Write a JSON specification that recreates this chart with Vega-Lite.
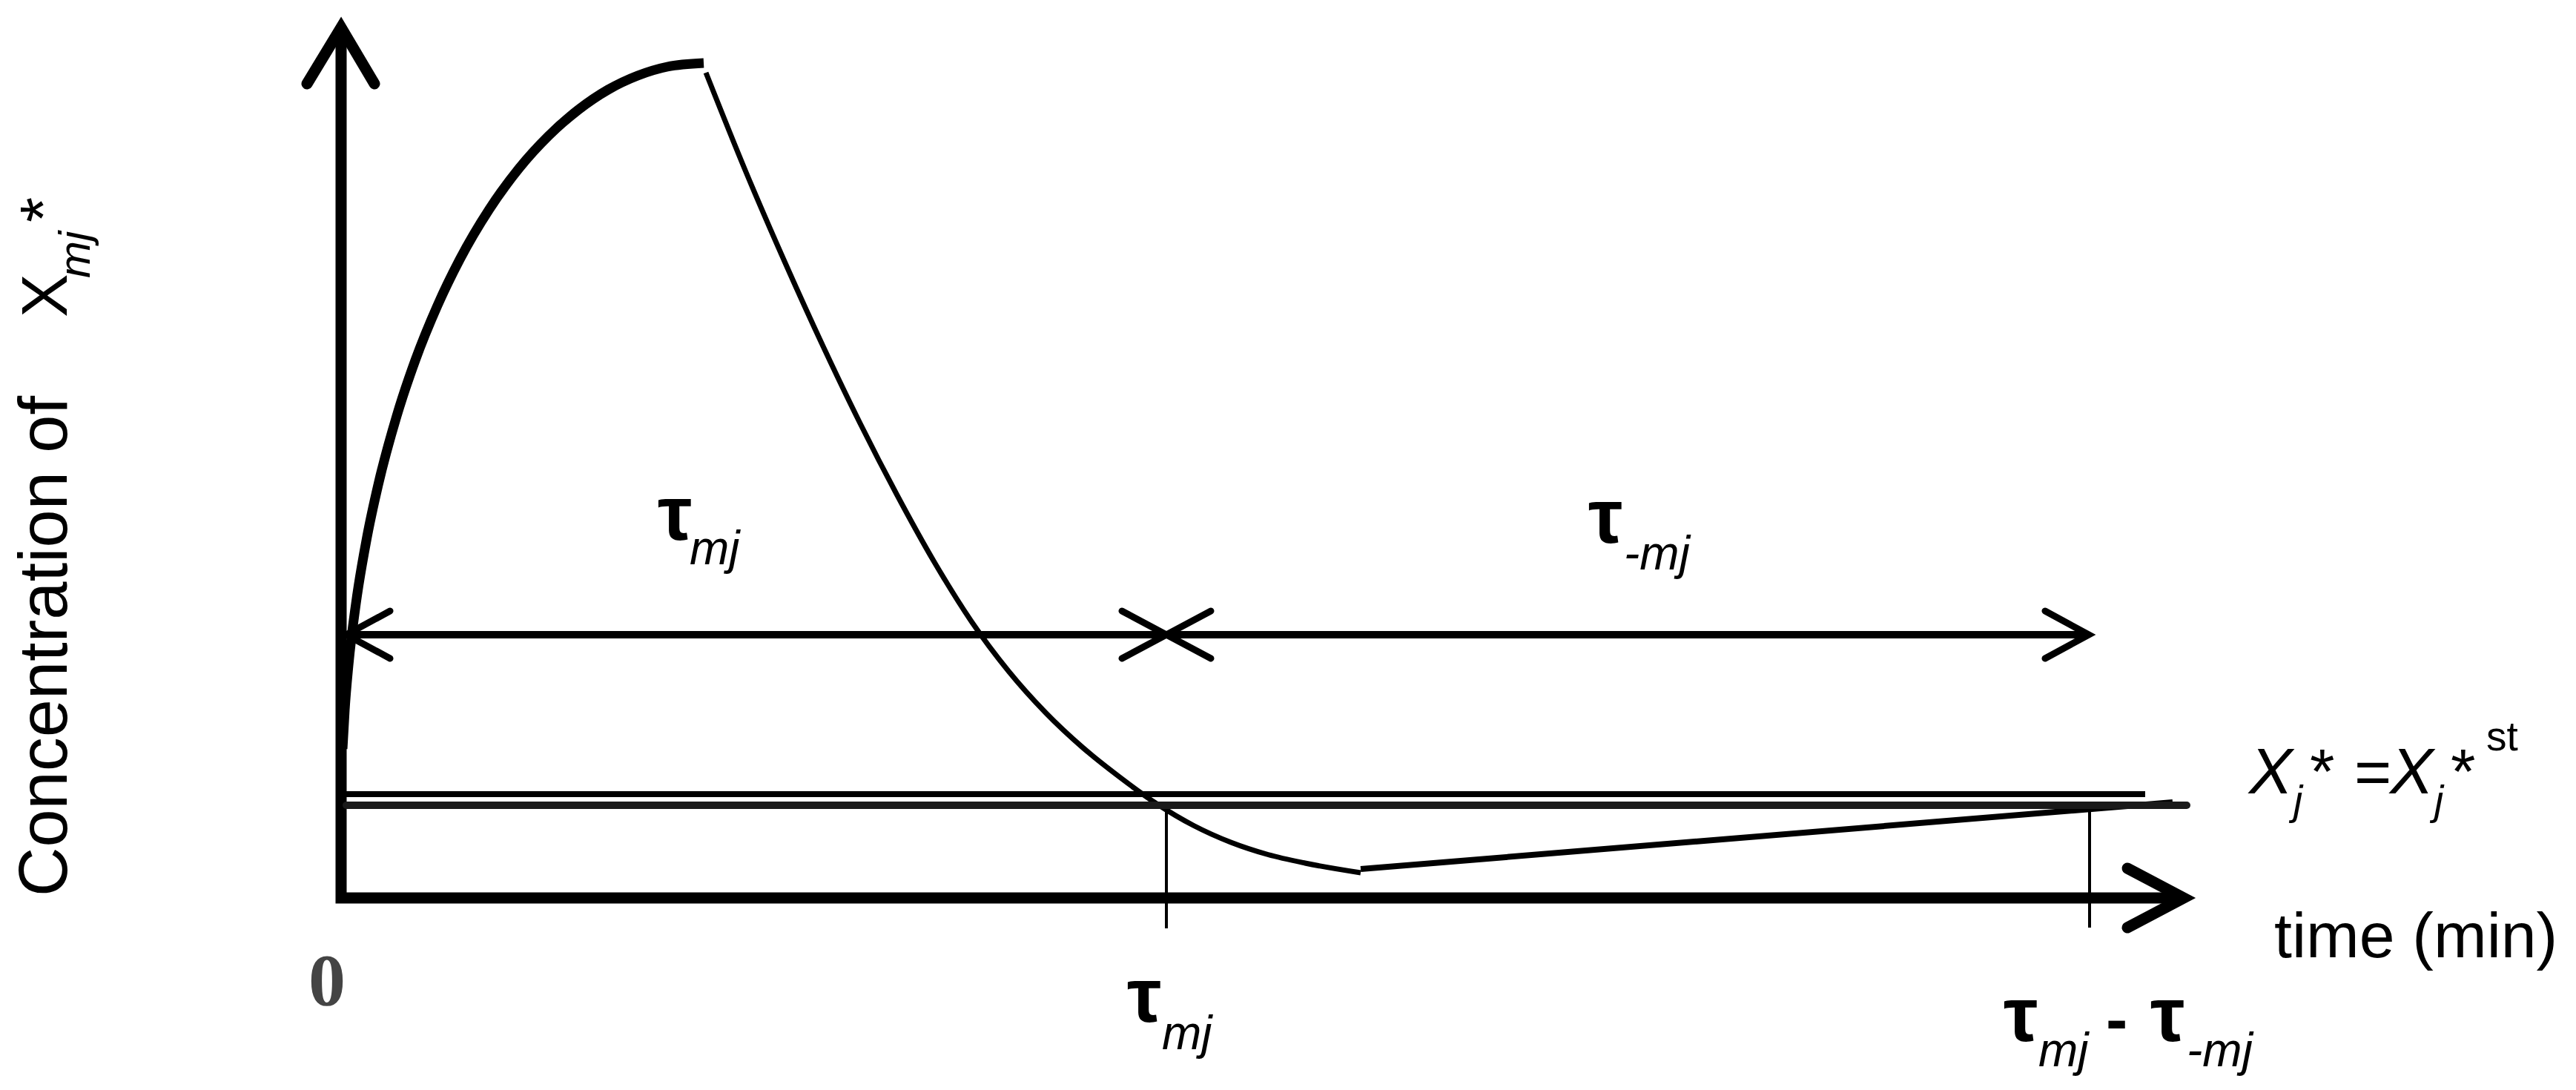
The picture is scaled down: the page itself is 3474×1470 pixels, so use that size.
{
  "$schema": "https://vega.github.io/schema/vega-lite/v6.json",
  "width": 3474,
  "height": 1470,
  "autosize": {"type": "fit", "contains": "padding"},
  "padding": 0,
  "background": "white",
  "config": {"view": {"stroke": null}},
  "datasets": {
    "paths": [
      {"part": "axes", "i": 1, "t": 0, "c": 11.6},
      {"part": "axes", "i": 2, "t": 0, "c": 0},
      {"part": "axes", "i": 3, "t": 24.75, "c": 0},
      {"part": "yarrow", "i": 1, "t": -0.46, "c": 10.98},
      {"part": "yarrow", "i": 2, "t": 0, "c": 11.74},
      {"part": "yarrow", "i": 3, "t": 0.45, "c": 10.98},
      {"part": "xarrow", "i": 1, "t": 24.09, "c": 0.4},
      {"part": "xarrow", "i": 2, "t": 24.85, "c": 0},
      {"part": "xarrow", "i": 3, "t": 24.09, "c": -0.4},
      {"part": "rise", "i": 1, "t": 0.02, "c": 2.01},
      {"part": "rise", "i": 2, "t": 0.05, "c": 2.54},
      {"part": "rise", "i": 3, "t": 0.1, "c": 3.14},
      {"part": "rise", "i": 4, "t": 0.2, "c": 3.97},
      {"part": "rise", "i": 5, "t": 0.35, "c": 4.87},
      {"part": "rise", "i": 6, "t": 0.5, "c": 5.57},
      {"part": "rise", "i": 7, "t": 0.75, "c": 6.5},
      {"part": "rise", "i": 8, "t": 1.0, "c": 7.25},
      {"part": "rise", "i": 9, "t": 1.3, "c": 7.99},
      {"part": "rise", "i": 10, "t": 1.6, "c": 8.61},
      {"part": "rise", "i": 11, "t": 2.0, "c": 9.29},
      {"part": "rise", "i": 12, "t": 2.4, "c": 9.84},
      {"part": "rise", "i": 13, "t": 2.8, "c": 10.28},
      {"part": "rise", "i": 14, "t": 3.2, "c": 10.63},
      {"part": "rise", "i": 15, "t": 3.6, "c": 10.9},
      {"part": "rise", "i": 16, "t": 4.0, "c": 11.09},
      {"part": "rise", "i": 17, "t": 4.4, "c": 11.21},
      {"part": "rise", "i": 18, "t": 4.89, "c": 11.26},
      {"part": "fall", "i": 1, "t": 4.92, "c": 11.13},
      {"part": "fall", "i": 2, "t": 5.46, "c": 9.79},
      {"part": "fall", "i": 3, "t": 6.0, "c": 8.54},
      {"part": "fall", "i": 4, "t": 6.5, "c": 7.44},
      {"part": "fall", "i": 5, "t": 7.0, "c": 6.4},
      {"part": "fall", "i": 6, "t": 7.5, "c": 5.43},
      {"part": "fall", "i": 7, "t": 8.0, "c": 4.53},
      {"part": "fall", "i": 8, "t": 8.5, "c": 3.73},
      {"part": "fall", "i": 9, "t": 9.0, "c": 3.06},
      {"part": "fall", "i": 10, "t": 9.5, "c": 2.5},
      {"part": "fall", "i": 11, "t": 10.0, "c": 2.03},
      {"part": "fall", "i": 12, "t": 10.5, "c": 1.63},
      {"part": "fall", "i": 13, "t": 11.0, "c": 1.27},
      {"part": "fall", "i": 14, "t": 11.5, "c": 0.975},
      {"part": "fall", "i": 15, "t": 12.0, "c": 0.75},
      {"part": "fall", "i": 16, "t": 12.5, "c": 0.585},
      {"part": "fall", "i": 17, "t": 13.0, "c": 0.47},
      {"part": "fall", "i": 18, "t": 13.75, "c": 0.34},
      {"part": "recover", "i": 1, "t": 13.75, "c": 0.39},
      {"part": "recover", "i": 2, "t": 24.7, "c": 1.29},
      {"part": "steady1", "i": 1, "t": 0.07, "c": 1.4},
      {"part": "steady1", "i": 2, "t": 24.33, "c": 1.4},
      {"part": "steady2", "i": 1, "t": 0.07, "c": 1.25},
      {"part": "steady2", "i": 2, "t": 24.89, "c": 1.25},
      {"part": "span", "i": 1, "t": 0.07, "c": 3.55},
      {"part": "span", "i": 2, "t": 23.57, "c": 3.55},
      {"part": "head1", "i": 1, "t": 0.66, "c": 3.87},
      {"part": "head1", "i": 2, "t": 0.07, "c": 3.55},
      {"part": "head1", "i": 3, "t": 0.66, "c": 3.23},
      {"part": "head2", "i": 1, "t": 10.53, "c": 3.87},
      {"part": "head2", "i": 2, "t": 11.13, "c": 3.55},
      {"part": "head2", "i": 3, "t": 10.53, "c": 3.23},
      {"part": "head3", "i": 1, "t": 11.73, "c": 3.87},
      {"part": "head3", "i": 2, "t": 11.13, "c": 3.55},
      {"part": "head3", "i": 3, "t": 11.73, "c": 3.23},
      {"part": "head4", "i": 1, "t": 22.98, "c": 3.87},
      {"part": "head4", "i": 2, "t": 23.57, "c": 3.55},
      {"part": "head4", "i": 3, "t": 22.98, "c": 3.23},
      {"part": "tick1", "i": 1, "t": 11.13, "c": 1.2},
      {"part": "tick1", "i": 2, "t": 11.13, "c": -0.41},
      {"part": "tick2", "i": 1, "t": 23.58, "c": 1.16},
      {"part": "tick2", "i": 2, "t": 23.58, "c": -0.4}
    ],
    "texts": [
      {"style": "rot92", "label": "Concentration of", "t": -3.7, "c": 0.02},
      {"style": "rot88", "label": "X", "t": -3.7, "c": 7.83},
      {"style": "rot88", "label": "*", "t": -3.72, "c": 9.11},
      {"style": "rotsub", "label": "mj", "t": -3.39, "c": 8.36},
      {"style": "tau", "label": "τ", "t": 4.27, "c": 4.83},
      {"style": "tau", "label": "τ", "t": 16.82, "c": 4.79},
      {"style": "tau", "label": "τ", "t": 10.6, "c": -1.67},
      {"style": "tau", "label": "τ", "t": 22.42, "c": -1.93},
      {"style": "tau", "label": "τ", "t": 24.4, "c": -1.93},
      {"style": "sub", "label": "mj", "t": 4.7, "c": 4.5},
      {"style": "sub", "label": "-mj", "t": 17.3, "c": 4.43},
      {"style": "sub", "label": "mj", "t": 11.07, "c": -2.04},
      {"style": "sub", "label": "mj", "t": 22.89, "c": -2.27},
      {"style": "sub", "label": "-mj", "t": 24.89, "c": -2.27},
      {"style": "minus", "label": "-", "t": 23.8, "c": -1.93},
      {"style": "reg", "label": "time (min)", "t": 26.07, "c": -0.8},
      {"style": "reg", "label": "*", "t": 26.55, "c": 1.41},
      {"style": "reg", "label": "=", "t": 27.15, "c": 1.41},
      {"style": "reg", "label": "*", "t": 28.45, "c": 1.41},
      {"style": "ital", "label": "X", "t": 25.73, "c": 1.41},
      {"style": "ital", "label": "X", "t": 27.63, "c": 1.41},
      {"style": "smallital", "label": "j", "t": 26.33, "c": 1.13},
      {"style": "smallital", "label": "j", "t": 28.23, "c": 1.13},
      {"style": "small", "label": "st", "t": 28.93, "c": 1.99},
      {"style": "zero", "label": "0", "t": -0.19, "c": -1.44}
    ]
  },
  "encoding": {
    "x": {"field": "t", "type": "quantitative", "scale": {"domain": [-4.6, 30.14], "nice": false, "zero": false}, "axis": null},
    "y": {"field": "c", "type": "quantitative", "scale": {"domain": [-2.59, 12.11], "nice": false, "zero": false}, "axis": null}
  },
  "layer": [
    {
      "data": {"name": "paths"},
      "transform": [{"filter": {"field": "part", "oneOf": ["axes"]}}],
      "mark": {"type": "line", "color": "black", "strokeWidth": 15, "strokeJoin": "miter", "strokeCap": "butt"},
      "encoding": {"order": {"field": "i", "type": "quantitative"}, "detail": {"field": "part"}}
    },
    {
      "data": {"name": "paths"},
      "transform": [{"filter": {"field": "part", "oneOf": ["yarrow", "xarrow"]}}],
      "mark": {"type": "line", "color": "black", "strokeWidth": 15, "strokeJoin": "miter", "strokeCap": "round"},
      "encoding": {"order": {"field": "i", "type": "quantitative"}, "detail": {"field": "part"}}
    },
    {
      "data": {"name": "paths"},
      "transform": [{"filter": {"field": "part", "oneOf": ["rise"]}}],
      "mark": {"type": "line", "color": "black", "strokeWidth": 13, "interpolate": "monotone", "strokeCap": "butt"},
      "encoding": {"order": {"field": "i", "type": "quantitative"}, "detail": {"field": "part"}}
    },
    {
      "data": {"name": "paths"},
      "transform": [{"filter": {"field": "part", "oneOf": ["fall"]}}],
      "mark": {"type": "line", "color": "black", "strokeWidth": 7, "interpolate": "monotone", "strokeCap": "butt"},
      "encoding": {"order": {"field": "i", "type": "quantitative"}, "detail": {"field": "part"}}
    },
    {
      "data": {"name": "paths"},
      "transform": [{"filter": {"field": "part", "oneOf": ["recover", "steady1"]}}],
      "mark": {"type": "line", "color": "black", "strokeWidth": 8, "strokeCap": "butt"},
      "encoding": {"order": {"field": "i", "type": "quantitative"}, "detail": {"field": "part"}}
    },
    {
      "data": {"name": "paths"},
      "transform": [{"filter": {"field": "part", "oneOf": ["steady2"]}}],
      "mark": {"type": "line", "color": "#1a1a1a", "strokeWidth": 10, "strokeCap": "round"},
      "encoding": {"order": {"field": "i", "type": "quantitative"}, "detail": {"field": "part"}}
    },
    {
      "data": {"name": "paths"},
      "transform": [{"filter": {"field": "part", "oneOf": ["span"]}}],
      "mark": {"type": "line", "color": "black", "strokeWidth": 10, "strokeCap": "butt"},
      "encoding": {"order": {"field": "i", "type": "quantitative"}, "detail": {"field": "part"}}
    },
    {
      "data": {"name": "paths"},
      "transform": [{"filter": {"field": "part", "oneOf": ["head1", "head2", "head3", "head4"]}}],
      "mark": {"type": "line", "color": "black", "strokeWidth": 9, "strokeJoin": "miter", "strokeCap": "round"},
      "encoding": {"order": {"field": "i", "type": "quantitative"}, "detail": {"field": "part"}}
    },
    {
      "data": {"name": "paths"},
      "transform": [{"filter": {"field": "part", "oneOf": ["tick1", "tick2"]}}],
      "mark": {"type": "line", "color": "black", "strokeWidth": 4, "strokeCap": "butt"},
      "encoding": {"order": {"field": "i", "type": "quantitative"}, "detail": {"field": "part"}}
    },
    {
      "data": {"name": "texts"},
      "transform": [{"filter": {"field": "style", "equal": "rot92"}}],
      "mark": {"type": "text", "font": "Liberation Sans", "fontSize": 92, "angle": 270, "align": "left", "baseline": "alphabetic", "color": "black"},
      "encoding": {"text": {"field": "label"}}
    },
    {
      "data": {"name": "texts"},
      "transform": [{"filter": {"field": "style", "equal": "rot88"}}],
      "mark": {"type": "text", "font": "Liberation Sans", "fontSize": 88, "angle": 270, "align": "left", "baseline": "alphabetic", "color": "black"},
      "encoding": {"text": {"field": "label"}}
    },
    {
      "data": {"name": "texts"},
      "transform": [{"filter": {"field": "style", "equal": "rotsub"}}],
      "mark": {"type": "text", "font": "Liberation Sans", "fontSize": 60, "fontStyle": "italic", "angle": 270, "align": "left", "baseline": "alphabetic", "color": "black"},
      "encoding": {"text": {"field": "label"}}
    },
    {
      "data": {"name": "texts"},
      "transform": [{"filter": {"field": "style", "equal": "tau"}}],
      "mark": {"type": "text", "font": "Liberation Sans", "fontSize": 104, "fontWeight": "bold", "align": "left", "baseline": "alphabetic", "color": "black"},
      "encoding": {"text": {"field": "label"}}
    },
    {
      "data": {"name": "texts"},
      "transform": [{"filter": {"field": "style", "equal": "sub"}}],
      "mark": {"type": "text", "font": "Liberation Sans", "fontSize": 64, "fontStyle": "italic", "align": "left", "baseline": "alphabetic", "color": "black"},
      "encoding": {"text": {"field": "label"}}
    },
    {
      "data": {"name": "texts"},
      "transform": [{"filter": {"field": "style", "equal": "minus"}}],
      "mark": {"type": "text", "font": "Liberation Sans", "fontSize": 88, "fontWeight": "bold", "align": "left", "baseline": "alphabetic", "color": "black"},
      "encoding": {"text": {"field": "label"}}
    },
    {
      "data": {"name": "texts"},
      "transform": [{"filter": {"field": "style", "equal": "reg"}}],
      "mark": {"type": "text", "font": "Liberation Sans", "fontSize": 86, "align": "left", "baseline": "alphabetic", "color": "black"},
      "encoding": {"text": {"field": "label"}}
    },
    {
      "data": {"name": "texts"},
      "transform": [{"filter": {"field": "style", "equal": "ital"}}],
      "mark": {"type": "text", "font": "Liberation Sans", "fontSize": 88, "fontStyle": "italic", "align": "left", "baseline": "alphabetic", "color": "black"},
      "encoding": {"text": {"field": "label"}}
    },
    {
      "data": {"name": "texts"},
      "transform": [{"filter": {"field": "style", "equal": "smallital"}}],
      "mark": {"type": "text", "font": "Liberation Sans", "fontSize": 55, "fontStyle": "italic", "align": "left", "baseline": "alphabetic", "color": "black"},
      "encoding": {"text": {"field": "label"}}
    },
    {
      "data": {"name": "texts"},
      "transform": [{"filter": {"field": "style", "equal": "small"}}],
      "mark": {"type": "text", "font": "Liberation Sans", "fontSize": 55, "align": "left", "baseline": "alphabetic", "color": "black"},
      "encoding": {"text": {"field": "label"}}
    },
    {
      "data": {"name": "texts"},
      "transform": [{"filter": {"field": "style", "equal": "zero"}}],
      "mark": {"type": "text", "font": "Liberation Serif", "fontSize": 100, "fontWeight": "bold", "align": "center", "baseline": "alphabetic", "color": "#444444"},
      "encoding": {"text": {"field": "label"}}
    }
  ]
}
